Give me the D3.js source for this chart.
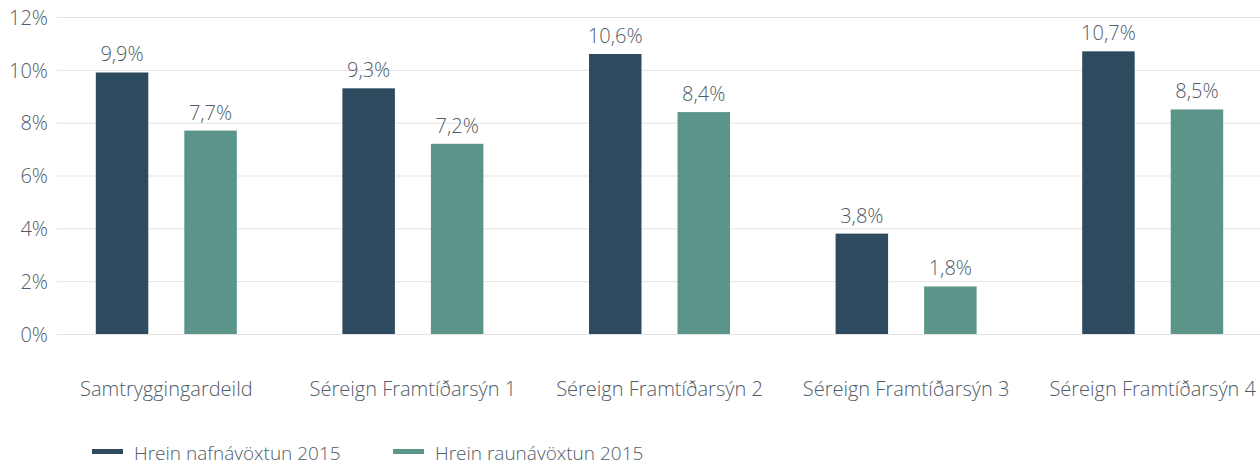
<!DOCTYPE html>
<html lang="is">
<head>
<meta charset="UTF-8">
<title>Hrein ávöxtun 2015</title>
<script src="https://cdn.jsdelivr.net/npm/d3@7"></script>
<style>
  body { margin: 0; background: #fff; }
  svg text { font-family: "Open Sans", sans-serif; font-weight: 300; fill: #505c68; }
</style>
</head>
<body>
<svg id="chart" width="1260" height="466"></svg>
<script>
  // data
  const categories = ["Samtryggingardeild", "Séreign Framtíðarsýn 1", "Séreign Framtíðarsýn 2", "Séreign Framtíðarsýn 3", "Séreign Framtíðarsýn 4"];
  const seriesNames = ["Hrein nafnávöxtun 2015", "Hrein raunávöxtun 2015"];
  const nominal = [9.9, 9.3, 10.6, 3.8, 10.7];
  const real = [7.7, 7.2, 8.4, 1.8, 8.5];
  const yTicks = [0, 2, 4, 6, 8, 10, 12];
  const colors = ["#2e4a5e", "#5b9488"];

  const rows = categories.map((c, i) => ({ cat: c, values: [nominal[i], real[i]] }));

  const svg = d3.select("#chart");
  const fmt = v => String(v.toFixed(1)).replace(".", ",") + "%";

  const x0 = d3.scaleBand().domain(categories).range([43, 1276]).padding(0);
  const step = x0.step();
  const x1 = d3.scaleBand().domain(seriesNames)
    .range([step / 2 - 70.5, step / 2 + 70.5])
    .paddingInner(0.407).paddingOuter(0);
  const y = d3.scaleLinear().domain([0, 12]).range([334, 17]);

  // grid + y axis
  const yAxis = svg.append("g")
    .attr("transform", "translate(57,0)")
    .call(d3.axisLeft(y).tickValues(yTicks).tickSize(-1210).tickPadding(9).tickFormat(d => d + "%"));
  yAxis.select(".domain").remove();
  yAxis.selectAll(".tick line").attr("stroke", "#e3e3e3");
  yAxis.selectAll(".tick text").attr("font-size", 20).attr("dy", "0.36em");

  const groups = svg.append("g").selectAll("g")
    .data(rows)
    .join("g")
      .attr("transform", d => `translate(${x0(d.cat)},0)`);

  const bars = groups.selectAll("g")
    .data(d => d.values.map((v, i) => ({ key: seriesNames[i], value: v, i })))
    .join("g");

  bars.append("rect")
    .attr("x", d => x1(d.key))
    .attr("width", x1.bandwidth())
    .attr("y", d => y(d.value))
    .attr("height", d => y(0) - y(d.value))
    .attr("fill", d => colors[d.i]);

  bars.append("text")
    .attr("x", d => x1(d.key) + x1.bandwidth() / 2)
    .attr("y", d => y(d.value) - 11)
    .attr("text-anchor", "middle")
    .attr("font-size", 20)
    .text(d => fmt(d.value));

  // category labels
  svg.append("g").selectAll("text")
    .data(categories)
    .join("text")
      .attr("x", d => x0(d) + step / 2)
      .attr("y", 396)
      .attr("text-anchor", "middle")
      .attr("font-size", 20)
      .text(d => d);

  // legend
  const legend = svg.append("g").selectAll("g")
    .data(seriesNames)
    .join("g")
      .attr("transform", (d, i) => `translate(${92 + i * 301},0)`);
  legend.append("rect")
    .attr("y", 449).attr("width", 31).attr("height", 5)
    .attr("fill", (d, i) => colors[i]);
  legend.append("text")
    .attr("x", 42).attr("y", 460)
    .attr("font-size", 19)
    .text(d => d);
</script>
</body>
</html>
